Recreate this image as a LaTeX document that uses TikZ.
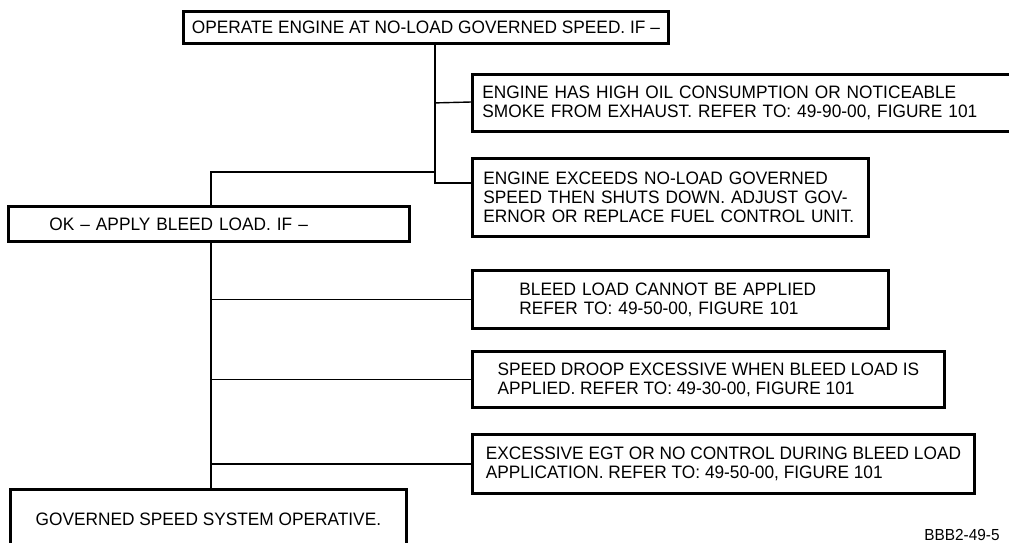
\documentclass[tikz,border=0pt]{standalone}
\usepackage{fontspec}
\setmainfont{Liberation Sans}[FakeStretch=0.96]
\usetikzlibrary{positioning, calc}

\begin{document}
\begin{tikzpicture}[x=1pt, y=-1pt,
        box/.style={draw, line width=2.8pt, inner sep=0pt, anchor=north west, align=left,
            font=\fontsize{18}{19}\selectfont},
        link/.style={line width=1.4pt}
    ]
        \useasboundingbox (0,0) rectangle (1009,542);
        \clip (0,0) rectangle (1009,542);
        \node[box, align=center, minimum width=485pt, minimum height=32pt] (operate) at (182,10) {OPERATE ENGINE AT NO-LOAD GOVERNED SPEED. IF --};
        \node[box, minimum width=560pt, minimum height=57pt, text width=540pt] (oil) at (471,73) {ENGINE HAS HIGH OIL CONSUMPTION OR NOTICEABLE\\SMOKE FROM EXHAUST. REFER TO: 49-90-00, FIGURE 101};
        \node[box, minimum width=396pt, minimum height=78pt, text width=374pt] (exceed) at (471,157) {ENGINE EXCEEDS NO-LOAD GOVERNED\\SPEED THEN SHUTS DOWN. ADJUST GOV-\\ERNOR OR REPLACE FUEL CONTROL UNIT.};
        \node[box, minimum width=401pt, minimum height=35pt, text width=319pt] (ok) at (7,205) {OK -- APPLY BLEED LOAD. IF --};
        \node[box, minimum width=416pt, minimum height=58pt, text width=322pt] (bleed) at (471,269) {BLEED LOAD CANNOT BE APPLIED\\REFER TO: 49-50-00, FIGURE 101};
        \node[box, minimum width=472pt, minimum height=56pt] (droop) at (471,350) {SPEED DROOP EXCESSIVE WHEN BLEED LOAD IS\\APPLIED. REFER TO: 49-30-00, FIGURE 101};
        \node[box, minimum width=502pt, minimum height=59pt] (egt) at (471,433) {EXCESSIVE EGT OR NO CONTROL DURING BLEED LOAD\\APPLICATION. REFER TO: 49-50-00, FIGURE 101};
        \node[box, align=center, minimum width=396pt, minimum height=60pt] (operative) at (9,488) {GOVERNED SPEED SYSTEM OPERATIVE.};
        \node[font=\fontsize{16}{16}\selectfont, inner sep=0pt] (figno) at (962,535) {BBB2-49-5};
        % trunk from the first box
        \coordinate (t1) at (435,183);
        \coordinate (t2) at (435,172);
        \coordinate (s1) at (211,0);
        \draw[link] (operate.south -| t1) |- (exceed.west |- t1);
        \draw[link] (oil.west -| t1) -- (oil.west |- 0,102);
        \draw[link] (t2) -| (ok.north -| s1);
        % trunk from the bleed load box
        \draw[link] (ok.south -| s1) -- (operative.north -| s1);
        \foreach \b in {bleed, droop, egt}
            \draw[link] (\b.west -| s1) -- (\b.west);
    \end{tikzpicture}
\end{document}
